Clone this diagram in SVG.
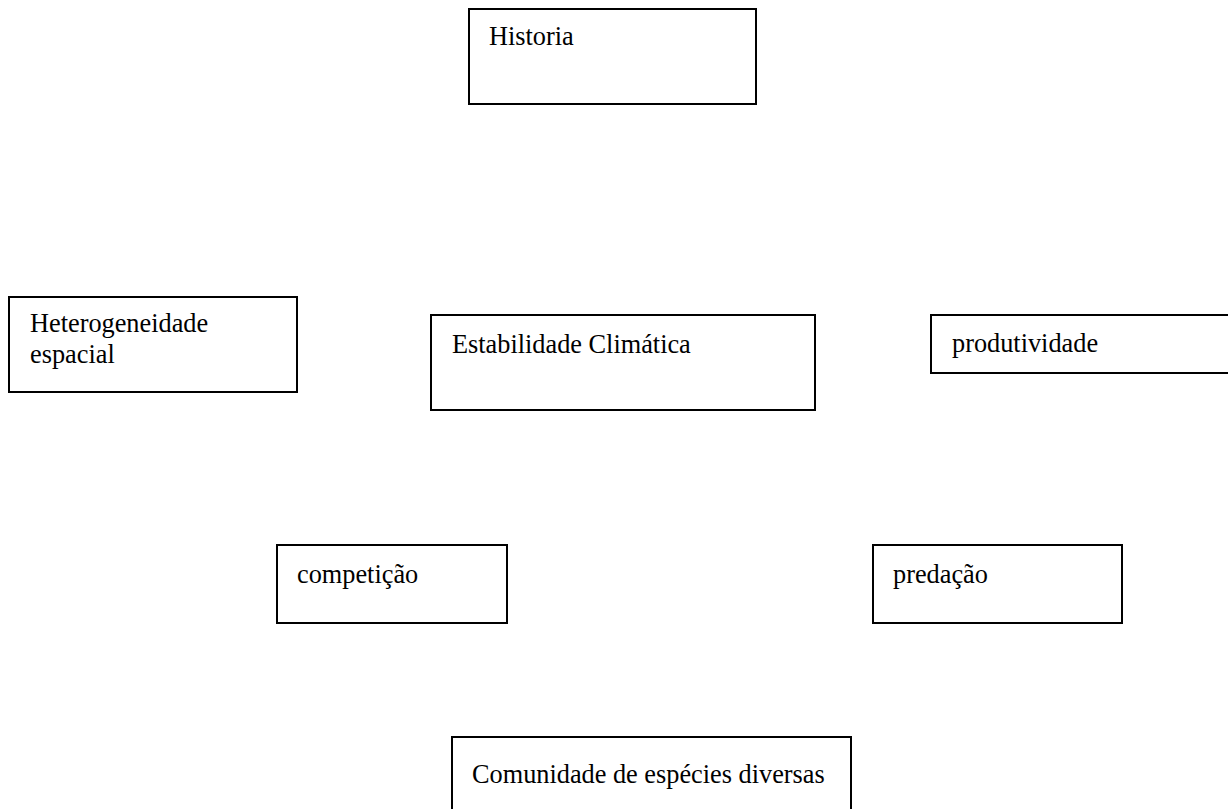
<svg xmlns="http://www.w3.org/2000/svg" width="1228" height="809" viewBox="0 0 1228 809">
<style>
.box{fill:#fff;stroke:#000;stroke-width:2}
.lbl{font-family:"Liberation Serif","Times New Roman",serif;font-size:26.3px;fill:#000}
</style>
<rect x="0" y="0" width="1228" height="809" fill="#fff"/>
<g id="connectors"></g>
<g id="historia"><rect class="box" x="469" y="9" width="287" height="95"/><text class="lbl" x="489" y="45">Historia</text></g>
<g id="heterogeneidade"><rect class="box" x="9" y="297" width="288" height="95"/><text class="lbl" x="30" y="332">Heterogeneidade</text><text class="lbl" x="30" y="363">espacial</text></g>
<g id="estabilidade"><rect class="box" x="431" y="315" width="384" height="95"/><text class="lbl" x="452" y="353">Estabilidade Climática</text></g>
<g id="produtividade"><rect class="box" x="931" y="315" width="310" height="58"/><text class="lbl" x="952" y="352">produtividade</text></g>
<g id="competicao"><rect class="box" x="277" y="545" width="230" height="78"/><text class="lbl" x="297" y="583">competição</text></g>
<g id="predacao"><rect class="box" x="873" y="545" width="249" height="78"/><text class="lbl" x="893" y="583">predação</text></g>
<g id="comunidade"><rect class="box" x="452" y="737" width="399" height="90"/><text class="lbl" x="472" y="783">Comunidade de espécies diversas</text></g>
</svg>
